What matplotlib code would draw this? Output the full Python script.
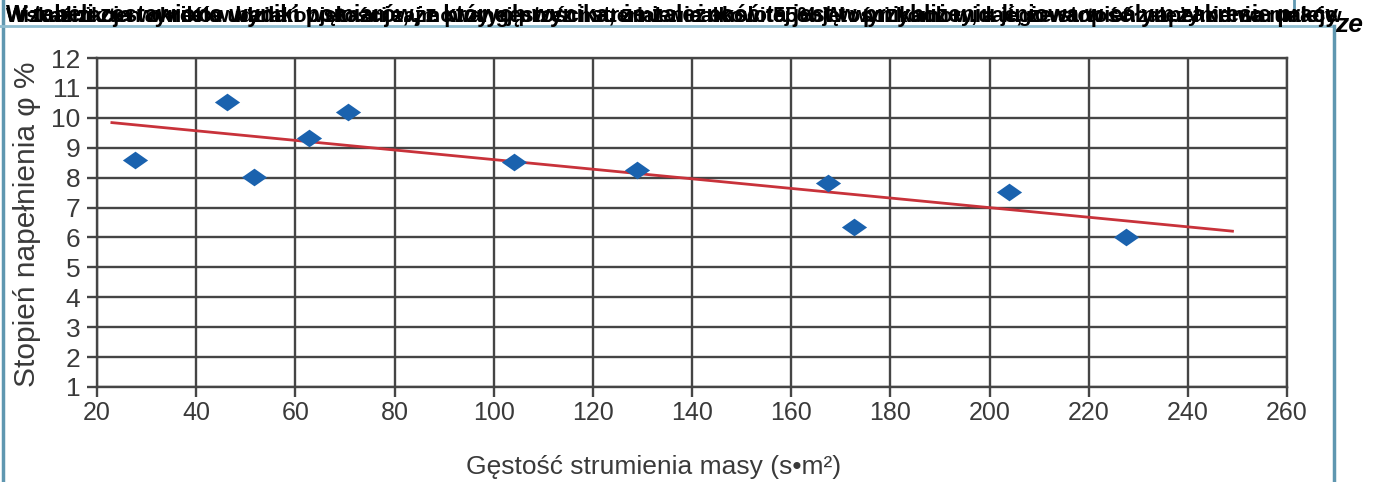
import matplotlib
matplotlib.use("Agg")
import matplotlib.pyplot as plt
from matplotlib.lines import Line2D

plt.rcParams['font.family'] = ['Liberation Sans', 'DejaVu Sans']

# measured points: mass flux density vs filling degree
mass_flux = [27.7, 46.2, 51.7, 62.8, 70.7, 104.2, 129.0, 167.5, 172.6, 203.9, 227.5]
filling = [8.59, 10.54, 8.02, 9.32, 10.19, 8.53, 8.25, 7.82, 6.36, 7.53, 6.01]

# trend line as drawn in the source
trend_x = [23.0, 249.0]
trend_y = [9.84, 6.21]

x_ticks = list(range(20, 261, 20))
y_ticks = list(range(1, 13))

header_texts = [
    "wizualizacja wyników badań wskazuje, że przy gęstości strumienia około 55% W wynikach widać, że stopień napełnienia maleje",
    "Wskaźnik ten określa udział objętości zajmowanej przez materiał w całkowitej objętości komory, a jego wartość zależy od warunków",
    "W tabeli zestawiono wyniki pomiarów, z których wynika, że zależność ta jest w przybliżeniu liniowa w całym zakresie pracy",
]

W, H = 1376, 482
fig = plt.figure(figsize=(W / 100, H / 100), dpi=100)
ax = fig.add_axes([97 / W, 1 - 387 / H, (1287 - 97) / W, (387 - 58) / H])

grid_col = '#454545'
ax.set_xlim(20, 260)
ax.set_ylim(1, 12)
ax.set_xticks(x_ticks)
ax.set_yticks(y_ticks)
ax.grid(True, color=grid_col, linewidth=1.7)
ax.set_axisbelow(True)
for s in ax.spines.values():
    s.set_color(grid_col)
    s.set_linewidth(1.7)
ax.tick_params(axis='both', colors=grid_col, width=1.7, length=7,
               labelcolor='#3a3a3a')
ax.tick_params(axis='y', pad=5, labelsize=19)
ax.tick_params(axis='x', pad=3, labelsize=18)

ax.plot(trend_x, trend_y, color='#c8323a', linewidth=2.0, zorder=3)
diamond = [(-1, 0), (0, 0.7), (1, 0), (0, -0.7), (-1, 0)]
ax.scatter(mass_flux, filling, marker=diamond, s=330, color='#1a62ae',
           linewidths=0, zorder=4)

fig.text(654 / W, 1 - 467 / H, 'Gęstość strumienia masy (s•m²)', fontsize=19,
         color='#3a3a3a', ha='center', va='center')
fig.text(27 / W, 1 - 224 / H, 'Stopień napełnienia φ %', fontsize=21.5,
         color='#3a3a3a', ha='center', va='center', rotation=90)

# frame around the figure
frame_col = '#8fbdd0'
fig.add_artist(Line2D([3 / W, 3 / W], [0, 1], transform=fig.transFigure,
                      color='#5f97b0', linewidth=2.5))
fig.add_artist(Line2D([0, 1334 / W], [1 - 26 / H, 1 - 26 / H],
                      transform=fig.transFigure, color=frame_col, linewidth=2))
fig.add_artist(Line2D([1334 / W, 1334 / W], [0, 1 - 26 / H],
                      transform=fig.transFigure, color='#5f97b0', linewidth=2.5))
fig.add_artist(Line2D([1294 / W, 1294 / W], [1 - 13 / H, 1],
                      transform=fig.transFigure, color='#5f97b0', linewidth=2))

# overlapping caption text at the top, each stretched to the same width
renderer = fig.canvas.get_renderer()
for t in header_texts:
    txt = fig.text(6 / W, 1 - 22 / H, t, fontsize=13, fontweight='bold',
                   color='black', ha='left', va='baseline')
    width = txt.get_window_extent(renderer).width
    txt.set_fontsize(13 * (1334 - 6) / width)
fig.text(1335 / W, 1 - 32 / H, 'ze', fontsize=19, fontstyle='italic',
         fontweight='bold', color='black', ha='left', va='baseline')

fig.savefig('out.png', dpi=100, facecolor='white')
